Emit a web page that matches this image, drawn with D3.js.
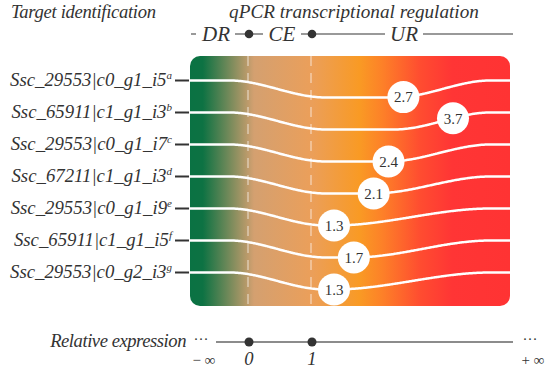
<!DOCTYPE html>
<html>
<head>
    <meta charset='utf-8'>
    <title>qPCR regulation</title>
    <script src='https://cdn.jsdelivr.net/npm/d3@7'></script>
    <style>
        body { margin: 0; background: #fff; }
    </style>
</head>
<body>
    <svg width='550' height='368'></svg>
    <script>
        // data
        const targets = ['Ssc_29553|c0_g1_i5', 'Ssc_65911|c1_g1_i3', 'Ssc_29553|c0_g1_i7', 'Ssc_67211|c1_g1_i3',
            'Ssc_29553|c0_g1_i9', 'Ssc_65911|c1_g1_i5', 'Ssc_29553|c0_g2_i3']
        const notes = ['a', 'b', 'c', 'd', 'e', 'f', 'g']
        const values = [2.7, 3.7, 2.4, 2.1, 1.3, 1.7, 1.3]
        const zones = ['DR', 'CE', 'UR']
        const thresholds = [0, 1]
        const tickLabels = ['0', '1']
        const ends = ['− ∞', '+ ∞']

        // Liberation Serif gets swapped for a sans face at ~16-18px in this browser, sizes stay outside that band
        const svg = d3.select('svg')
            .attr('font-family', 'Liberation Serif')
            .attr('fill', '#333')
        const box = { x: 190, y: 56, w: 320, h: 250 }

        const y = d3.scalePoint().domain(d3.range(targets.length)).range([80.5, 272.5])
        const xExpr = d3.scaleLinear().domain([0, 1]).range([248, 311])
        const xBubble = d3.scaleLinear().domain([1.3, 3.7]).range([334, 453])

        // gradient
        const defs = svg.append('defs')
        const grad = defs.append('linearGradient').attr('id', 'g').attr('x1', '0%').attr('x2', '100%')
        const stops = [[0, '#0a7243'], [0.04, '#0d7243'], [0.2, '#d4a070'], [0.38, '#eb9f5a'],
            [0.53, '#f99a24'], [0.6, '#fd8128'], [0.72, '#ff4c30'], [0.82, '#ff3535'], [1, '#ff3333']]
        grad.selectAll('stop').data(stops).enter().append('stop')
            .attr('offset', d => d[0]).attr('stop-color', d => d[1])

        svg.append('rect')
            .attr('x', box.x).attr('y', box.y).attr('width', box.w).attr('height', box.h)
            .attr('rx', 10).attr('fill', 'url(#g)')

        // dashed threshold lines
        svg.selectAll('.dash').data(thresholds).enter().append('line')
            .attr('x1', d => xExpr(d)).attr('x2', d => xExpr(d))
            .attr('y1', box.y).attr('y2', box.y + box.h)
            .attr('stroke', 'rgba(255,255,255,0.6)').attr('stroke-width', 1.2)
            .attr('stroke-dasharray', '10,7')

        // curves
        const smooth = t => { t = Math.max(0, Math.min(1, t)); return t * t * (3 - 2 * t) }
        const dip = 17
        function curveY(i, x) {
            const cx = xBubble(values[i])
            const rs = Math.min(cx, 395)
            const down = smooth((x - 230) / 95)
            const up = smooth((x - rs) / (490 - rs))
            return y(i) + dip * down * (1 - up)
        }
        const line = d3.line().x(d => d[0]).y(d => d[1]).curve(d3.curveBasis)
        const xs = d3.range(box.x, box.x + box.w + 1, 2)

        svg.selectAll('.curve').data(values).enter().append('path')
            .attr('d', (v, i) => line(xs.map(x => [x, curveY(i, x)])))
            .attr('fill', 'none').attr('stroke', '#fff').attr('stroke-width', 2.5)

        // tick marks
        svg.selectAll('.tick').data(targets).enter().append('line')
            .attr('x1', 175).attr('x2', 189)
            .attr('y1', (d, i) => y(i)).attr('y2', (d, i) => y(i))
            .attr('stroke', '#333').attr('stroke-width', 2)

        // labels
        const lab = svg.selectAll('.lab').data(targets).enter().append('text')
            .attr('x', 172).attr('y', (d, i) => y(i) + 5)
            .attr('text-anchor', 'end').attr('font-style', 'italic').attr('font-size', 18.8)
        lab.append('tspan').text(d => d)
        lab.append('tspan').text((d, i) => notes[i]).attr('font-size', 11).attr('dy', -7)

        // bubbles
        const bub = svg.selectAll('.bub').data(values).enter().append('g')
            .attr('transform', (v, i) => `translate(${xBubble(v)},${curveY(i, xBubble(v))})`)
        bub.append('circle').attr('r', 16).attr('fill', '#fff')
        bub.append('text').text(v => v.toFixed(1))
            .attr('y', 5.3).attr('text-anchor', 'middle').attr('font-size', 15)

        // titles
        svg.append('text').text('Target identification')
            .attr('x', 11).attr('y', 18).attr('font-style', 'italic').attr('font-size', 18.6)
            .attr('letter-spacing', -0.3)
        svg.append('text').text('qPCR transcriptional regulation')
            .attr('x', 354).attr('y', 18).attr('text-anchor', 'middle')
            .attr('font-style', 'italic').attr('font-size', 19.2)

        // zone header
        const hy = 34
        svg.append('line').attr('x1', 191).attr('x2', 513).attr('y1', hy).attr('y2', hy)
            .attr('stroke', '#777').attr('stroke-width', 1.5)
        const zoneX = [216, 282, 404]
        const zg = svg.selectAll('.zone').data(zones).enter().append('g')
        zg.append('rect')
            .attr('x', (d, i) => zoneX[i] - 19).attr('width', 38)
            .attr('y', hy - 10).attr('height', 20).attr('fill', '#fff')
        zg.append('text').text(d => d)
            .attr('x', (d, i) => zoneX[i]).attr('y', 40.5)
            .attr('text-anchor', 'middle').attr('font-style', 'italic').attr('font-size', 21)
        svg.append('rect').attr('x', 196).attr('y', hy - 3).attr('width', 4).attr('height', 6).attr('fill', '#fff')
        svg.selectAll('.hdot').data(thresholds).enter().append('circle')
            .attr('cx', d => xExpr(d) + 1).attr('cy', hy).attr('r', 4.3).attr('fill', '#333')

        // bottom axis
        const by = 342
        svg.append('text').text('Relative expression')
            .attr('x', 186).attr('y', 346.5).attr('text-anchor', 'end')
            .attr('font-style', 'italic').attr('font-size', 18.6).attr('letter-spacing', -0.45)
        svg.append('line').attr('x1', 216).attr('x2', 513).attr('y1', by).attr('y2', by)
            .attr('stroke', '#666').attr('stroke-width', 1.5)
        svg.selectAll('.ell').data([201, 530]).enter().append('text').text('···')
            .attr('x', d => d).attr('y', by + 2).attr('text-anchor', 'middle').attr('font-size', 15)
        svg.selectAll('.adot').data(thresholds).enter().append('circle')
            .attr('cx', d => xExpr(d) + 1).attr('cy', by).attr('r', 4.5).attr('fill', '#333')
        svg.selectAll('.alab').data(tickLabels).enter().append('text').text(d => d)
            .attr('x', (d, i) => xExpr(thresholds[i]) + 1).attr('y', 365)
            .attr('text-anchor', 'middle').attr('font-style', 'italic').attr('font-size', 18.6)
        svg.selectAll('.end').data(ends).enter().append('text').text(d => d)
            .attr('x', (d, i) => [204, 533][i]).attr('y', 365)
            .attr('text-anchor', 'middle').attr('font-size', 15)
    </script>
</body>
</html>
